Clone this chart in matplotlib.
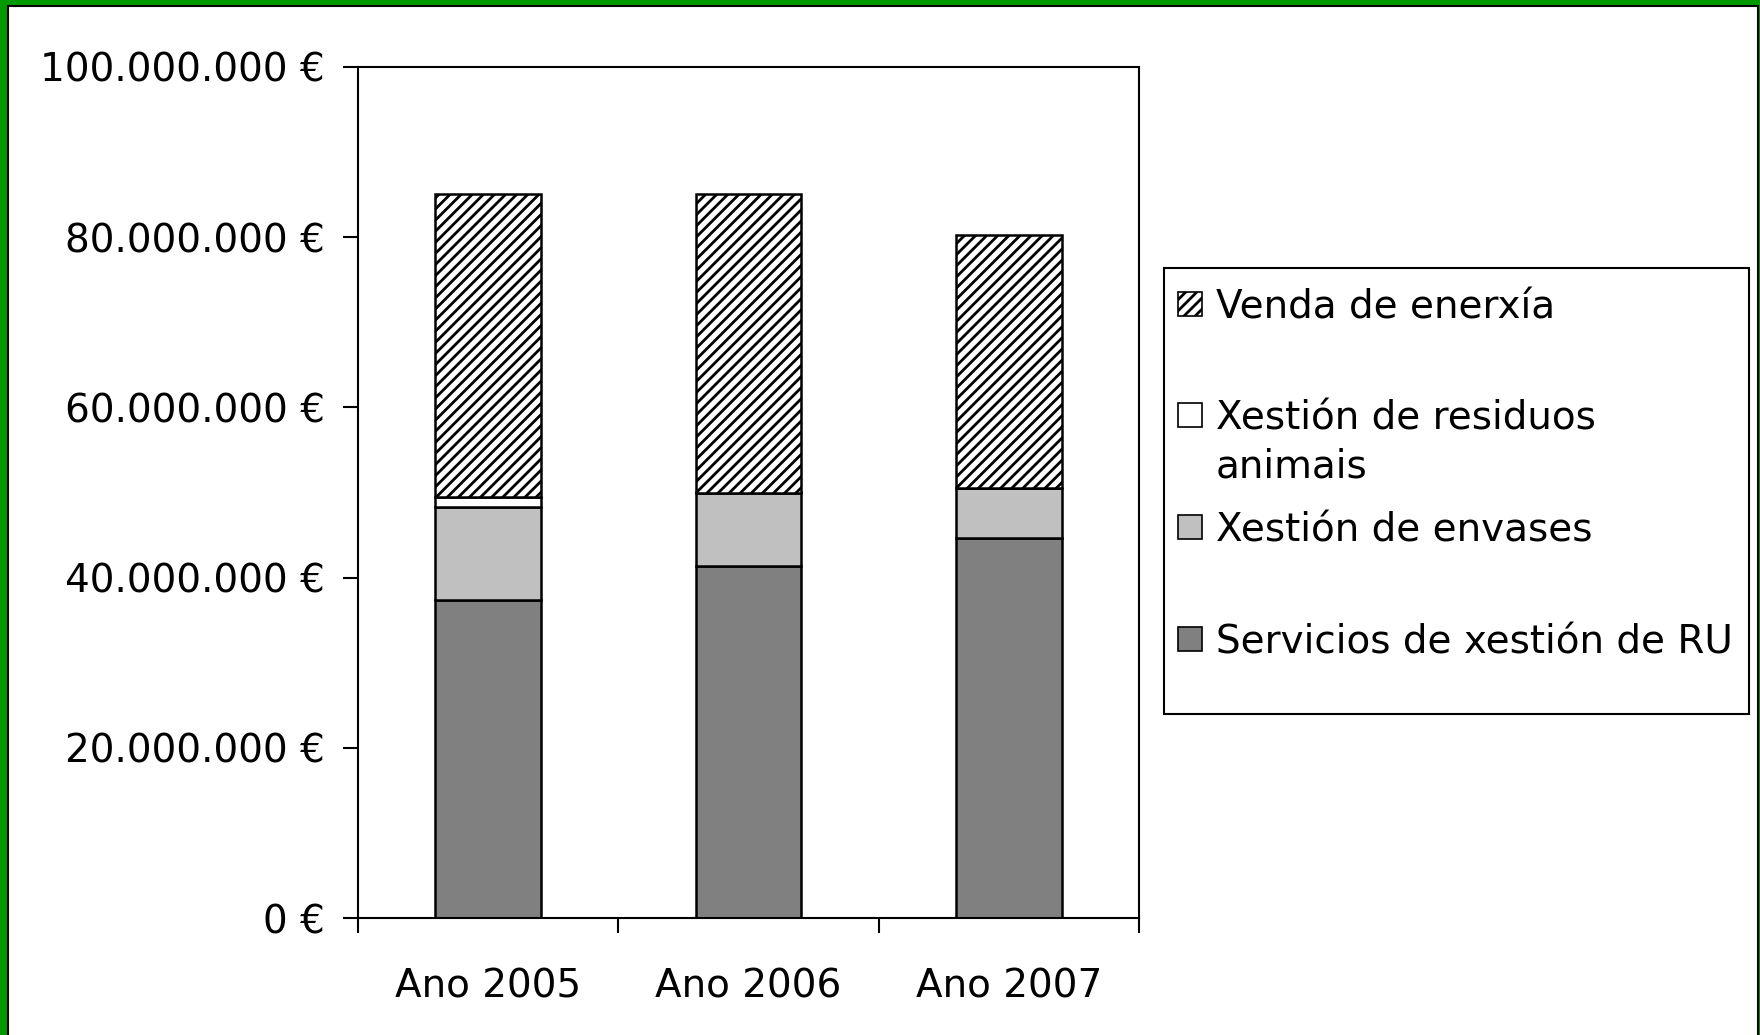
import matplotlib.pyplot as plt
from matplotlib.patches import Rectangle
from matplotlib.ticker import FuncFormatter

plt.rcParams['font.family'] = ['DejaVu Sans']
plt.rcParams['hatch.linewidth'] = 2.0
plt.rcParams['hatch.color'] = '#2a2a2a'

# data (euros)
years = ["Ano 2005", "Ano 2006", "Ano 2007"]
servicios_ru = [37.4e6, 41.4e6, 44.6e6]
envases = [10.9e6, 8.6e6, 5.9e6]
residuos_animais = [1.2e6, 0.0, 0.0]
venda_enerxia = [35.6e6, 35.1e6, 29.7e6]

series_labels = ["Servicios de xestión de RU", "Xestión de envases",
                 "Xestión de residuos\nanimais", "Venda de enerxía"]
series_colors = ["#808080", "#c0c0c0", "#ffffff", "#ffffff"]
series_hatch = [None, None, None, "///"]

W, H = 1760, 1035
FS = 28
fig = plt.figure(figsize=(W / 100, H / 100), dpi=100, facecolor="#009900")

# white panel inside the green frame
fig.patches.append(Rectangle((8 / W, -0.05), (1758 - 8) / W, 1 - 6 / H + 0.05,
                             transform=fig.transFigure, facecolor="white",
                             edgecolor="black", linewidth=1.5, zorder=-5))

ax = fig.add_axes([358 / W, 1 - 918 / H, (1139 - 358) / W, (918 - 67) / H])
ax.set_facecolor("white")

x = [i + 0.5 for i in range(len(years))]
bottom = [0.0] * len(years)
for vals, lab, col, hat in zip([servicios_ru, envases, residuos_animais, venda_enerxia],
                               series_labels, series_colors, series_hatch):
    ax.bar(x, vals, width=0.405, bottom=bottom, color=col, hatch=hat,
           edgecolor="black", linewidth=1.8, label=lab, zorder=2)
    bottom = [b + v for b, v in zip(bottom, vals)]

ax.set_xlim(0, 3)
ax.set_ylim(0, 100e6)
ax.set_yticks([0, 20e6, 40e6, 60e6, 80e6, 100e6])


def euro(v, pos):
    if v == 0:
        return "0 €"
    return f"{int(v):,} €".replace(",", ".")


ax.yaxis.set_major_formatter(FuncFormatter(euro))
ax.set_xticks([0, 1, 2, 3])
ax.set_xticklabels([])
ax.set_xticks(x, minor=True)
ax.set_xticklabels(years, minor=True)
ax.tick_params(axis="x", which="major", direction="out", length=11, width=1.5)
ax.tick_params(axis="x", which="minor", length=0, pad=36, labelsize=FS)
ax.tick_params(axis="y", direction="out", length=11, width=1.5, labelsize=FS, pad=13)
for s in ax.spines.values():
    s.set_linewidth(1.5)

# legend drawn by hand so the two-line entry keeps its marker on the first line
lx0, ly0, lx1, ly1 = 1164, 268, 1749, 714
fig.patches.append(Rectangle((lx0 / W, 1 - ly1 / H), (lx1 - lx0) / W, (ly1 - ly0) / H,
                             transform=fig.transFigure, facecolor="white",
                             edgecolor="black", linewidth=1.5, zorder=3))
entry_y = [304, 415, 527, 639]
order = [3, 2, 1, 0]
sq = 24
for yy, idx in zip(entry_y, order):
    fig.patches.append(Rectangle((1178 / W, 1 - (yy + sq / 2) / H), sq / W, sq / H,
                                 transform=fig.transFigure,
                                 facecolor=series_colors[idx], hatch=series_hatch[idx],
                                 edgecolor="black", linewidth=1.2, zorder=4))
    lines = series_labels[idx].split("\n")
    for k, line in enumerate(lines):
        fig.text(1216 / W, 1 - (yy + 14 + k * 49) / H, line, fontsize=FS,
                 ha="left", va="baseline", zorder=5)

fig.savefig("out.png", dpi=100, facecolor=fig.get_facecolor())
